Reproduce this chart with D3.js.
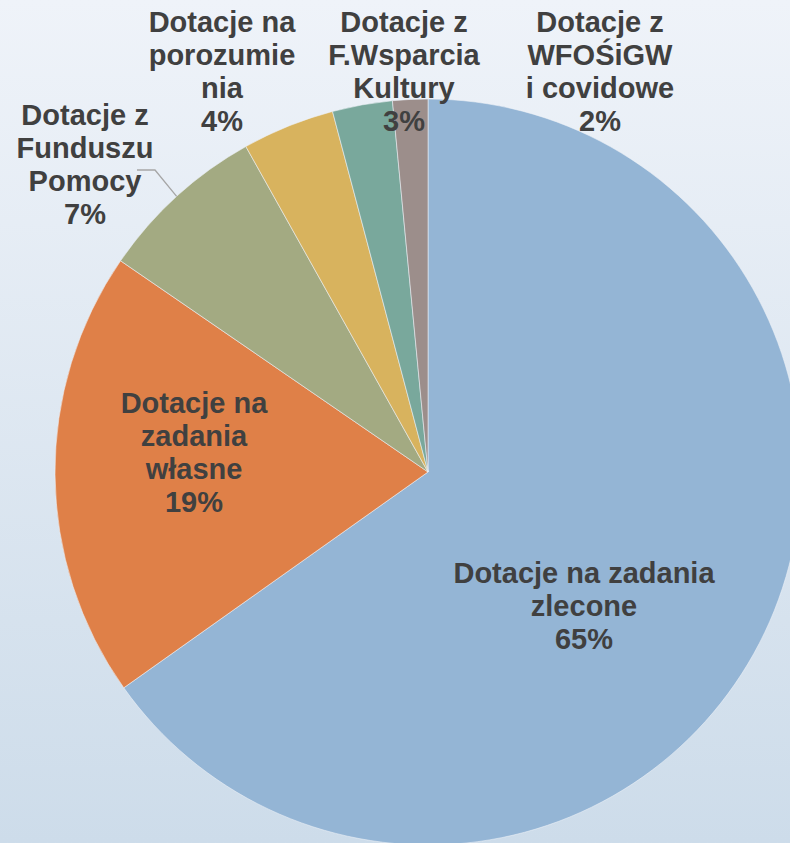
<!DOCTYPE html>
<html>
<head>
<meta charset="utf-8">
<script src="https://cdn.jsdelivr.net/npm/d3@7"></script>
<style>
  html, body { margin: 0; padding: 0; }
  body { width: 790px; height: 843px; overflow: hidden; }
  .lbl { font-family: "Liberation Sans", Arial, sans-serif; font-weight: bold; font-size: 29px; fill: #404040; }
</style>
</head>
<body>
<div id="chart"></div>
<script>
// slice data, clockwise from 12 o'clock
var categories = [
  "Dotacje na zadania zlecone",
  "Dotacje na zadania własne",
  "Dotacje z Funduszu Pomocy",
  "Dotacje na porozumienia",
  "Dotacje z F.Wsparcia Kultury",
  "Dotacje z WFOŚiGW i covidowe"
];
var values = [65.18, 19.4, 7.3, 4.0, 2.6, 1.52];
var colors = ["#94b5d5", "#df8048", "#a3aa82", "#d8b35e", "#79a89c", "#9c8e8b"];

// label text as it is wrapped in the chart
var labelLines = [
  ["Dotacje na zadania", "zlecone"],
  ["Dotacje na", "zadania", "własne"],
  ["Dotacje z", "Funduszu", "Pomocy"],
  ["Dotacje na", "porozumie", "nia"],
  ["Dotacje z", "F.Wsparcia", "Kultury"],
  ["Dotacje z", "WFOŚiGW", "i covidowe"]
];

var width = 790;
var height = 843;
var cx = 428, cy = 472, radius = 373;
var lineH = 33;

// label anchor: centre x and first baseline
var labelPos = [
  [584, 583], [194, 413], [85, 125], [222, 32], [404, 32], [600, 32]
];

var svg = d3.select("#chart")
  .append("svg")
  .attr("width", width)
  .attr("height", height);

var grad = svg.append("defs").append("linearGradient")
  .attr("id", "bg")
  .attr("x1", 0).attr("y1", 0).attr("x2", 0).attr("y2", 1);
grad.append("stop").attr("offset", "0%").attr("stop-color", "#eff3f9");
grad.append("stop").attr("offset", "100%").attr("stop-color", "#cddcea");

svg.append("rect")
  .attr("width", width)
  .attr("height", height)
  .attr("fill", "url(#bg)");

var total = d3.sum(values);

var pie = d3.pie().sort(null).value(function(d) { return d; });
var arcs = pie(values);

var arc = d3.arc().innerRadius(0).outerRadius(radius);

var g = svg.append("g")
  .attr("transform", "translate(" + cx + "," + cy + ")");

g.selectAll("path.slice")
  .data(arcs)
  .enter()
  .append("path")
  .attr("class", "slice")
  .attr("d", arc)
  .attr("fill", function(d, i) { return colors[i]; })
  .attr("stroke", "#eef2f8")
  .attr("stroke-opacity", 0.7)
  .attr("stroke-width", 0.8);

// leader line for Fundusz Pomocy label
var mid = (arcs[2].startAngle + arcs[2].endAngle) / 2;
var ex = cx + radius * Math.sin(mid);
var ey = cy - radius * Math.cos(mid);
svg.append("path")
  .attr("d", "M137,170 L155,170 L" + ex + "," + ey)
  .attr("fill", "none")
  .attr("stroke", "#a6a6a6")
  .attr("stroke-width", 1.3);

// labels
categories.forEach(function(c, i) {
  var lines = labelLines[i].concat([Math.round(values[i] / total * 100) + "%"]);
  var t = svg.append("text")
    .attr("class", "lbl")
    .attr("text-anchor", "middle")
    .attr("x", labelPos[i][0])
    .attr("y", labelPos[i][1]);
  lines.forEach(function(l, k) {
    t.append("tspan")
      .attr("x", labelPos[i][0])
      .attr("dy", k === 0 ? 0 : lineH)
      .text(l);
  });
});
</script>
</body>
</html>
